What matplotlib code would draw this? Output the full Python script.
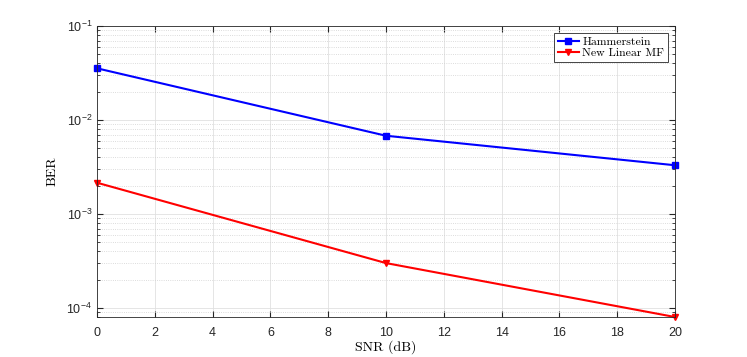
import matplotlib
matplotlib.use("Agg")
import matplotlib.pyplot as plt
from matplotlib.ticker import LogLocator, NullFormatter
import numpy as np

# data
snr = [0, 10, 20]
ber_hammerstein = [0.0355, 0.0068, 0.0033]
ber_linear_mf = [0.00215, 0.00030, 0.00008]

fig = plt.figure(figsize=(7.47, 3.57), dpi=100, facecolor='white')
ax = fig.add_axes([0.1299, 0.112, 0.7737, 0.815])

ax.semilogy(snr, ber_hammerstein, color='blue', marker='s', markersize=4,
            linewidth=1.5, label='Hammerstein', clip_on=False)
ax.semilogy(snr, ber_linear_mf, color='red', marker='v', markersize=5,
            linewidth=1.5, label='New Linear MF', clip_on=False)

ax.set_xlim(0, 20)
ax.set_ylim(8e-5, 1e-1)
ax.set_xticks(np.arange(0, 21, 2))
ax.yaxis.set_major_locator(LogLocator(base=10, numticks=10))
ax.yaxis.set_minor_locator(LogLocator(base=10, subs=np.arange(2, 10), numticks=10))
ax.yaxis.set_minor_formatter(NullFormatter())

ax.grid(True, which='major', color='#e0e0e0', linestyle='-', linewidth=0.6)
ax.grid(True, which='minor', axis='y', color='#d0d0d0', linestyle=':', linewidth=0.6)
ax.set_axisbelow(True)

ax.tick_params(which='both', direction='in', top=True, right=True,
               colors='#262626', labelsize=9)
ax.tick_params(which='major', length=4)
ax.tick_params(which='minor', length=2)
ax.tick_params(axis='x', pad=7)
for lab in ax.get_xticklabels() + ax.get_yticklabels():
    lab.set_fontfamily('Liberation Sans')
for s in ax.spines.values():
    s.set_color('#262626')
    s.set_linewidth(0.6)

ax.set_xlabel('SNR (dB)', fontfamily='cmr10', fontsize=10, labelpad=1)
ax.set_ylabel('BER', fontfamily='cmr10', fontsize=10, labelpad=6)

leg = ax.legend(loc='upper right', prop={'family': 'cmr10', 'size': 8.5},
                fancybox=False, edgecolor='#262626', framealpha=1,
                borderaxespad=0.6, handlelength=1.8, handletextpad=0.3,
                borderpad=0.3, labelspacing=0.1)
leg.get_frame().set_linewidth(0.6)

fig.savefig('out.png', dpi=100)
